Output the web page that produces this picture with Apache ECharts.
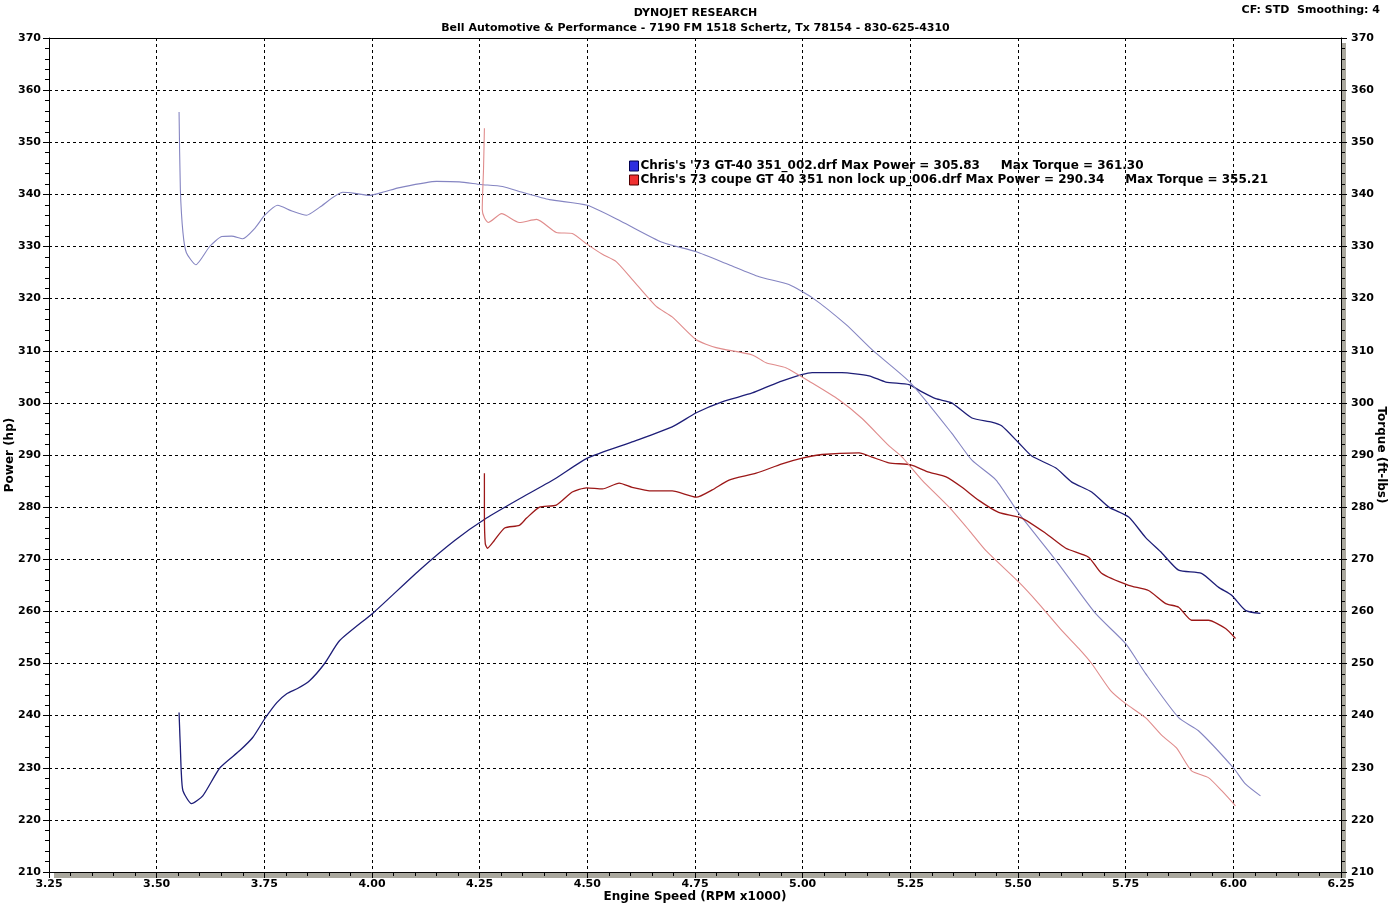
<!DOCTYPE html>
<html>
<head>
<meta charset="utf-8">
<title>Dynojet run</title>
<script src="https://cdn.jsdelivr.net/npm/echarts@6/dist/echarts.min.js"></script>
<style>
    html, body { margin: 0; padding: 0; background: #fff; }
    #chart { width: 1391px; height: 905px; }
</style>
</head>
<body>
<div id="chart"></div>
<script>
    // run labels
    const blueLabel = "Chris's '73 GT-40 351_002.drf Max Power = 305.83     Max Torque = 361.30";
    const redLabel = "Chris's 73 coupe GT 40 351 non lock up_006.drf Max Power = 290.34     Max Torque = 355.21";

    // [rpm x1000, value]
    const bluePower = [
        [3.552, 240.6], [3.554, 236.0], [3.555, 234.0], [3.557, 229.4], [3.561, 225.6], [3.581, 223.1],
        [3.607, 224.6], [3.647, 230.0], [3.693, 233.3], [3.723, 235.8], [3.751, 239.4], [3.779, 242.5],
        [3.802, 244.2], [3.827, 245.2], [3.855, 246.7], [3.890, 250.0], [3.925, 254.4], [4.004, 259.8],
        [4.110, 267.9], [4.192, 273.6], [4.266, 277.9], [4.349, 281.9], [4.428, 285.6], [4.500, 289.4],
        [4.604, 292.5], [4.697, 295.4], [4.753, 298.1], [4.813, 300.2], [4.883, 301.9], [4.945, 304.0],
        [5.022, 305.8], [5.091, 305.8], [5.154, 305.2], [5.193, 304.0], [5.247, 303.5], [5.277, 302.1],
        [5.309, 300.8], [5.346, 300.0], [5.393, 297.1], [5.439, 296.3], [5.462, 295.6], [5.502, 292.3],
        [5.532, 289.8], [5.588, 287.5], [5.625, 284.8], [5.671, 282.9], [5.711, 280.0], [5.757, 278.1],
        [5.796, 274.2], [5.834, 271.2], [5.873, 267.9], [5.926, 267.3], [5.966, 264.6], [5.996, 263.1],
        [6.028, 260.2], [6.063, 259.6]
    ];
    const blueTorque = [
        [3.552, 355.8], [3.555, 341.0], [3.561, 332.7], [3.569, 328.8], [3.591, 326.5], [3.623, 330.0],
        [3.651, 331.9], [3.674, 332.0], [3.700, 331.5], [3.728, 333.5], [3.751, 336.0], [3.781, 337.9],
        [3.814, 336.8], [3.848, 336.0], [3.878, 337.5], [3.932, 340.4], [3.960, 340.2], [3.994, 339.8],
        [4.029, 340.5], [4.064, 341.3], [4.150, 342.5], [4.203, 342.4], [4.252, 341.9], [4.303, 341.5],
        [4.349, 340.4], [4.412, 339.0], [4.500, 337.9], [4.579, 334.8], [4.674, 330.8], [4.753, 329.0],
        [4.829, 326.5], [4.899, 324.2], [4.968, 322.7], [5.022, 320.2], [5.101, 315.0], [5.161, 310.2],
        [5.251, 303.8], [5.346, 294.2], [5.393, 289.0], [5.449, 285.2], [5.502, 278.8], [5.588, 269.8],
        [5.680, 259.6], [5.750, 253.8], [5.796, 248.1], [5.873, 239.6], [5.919, 237.1], [6.000, 230.0],
        [6.028, 226.9], [6.063, 224.6]
    ];
    const redPower = [
        [4.261, 286.5], [4.261, 279.0], [4.263, 273.0], [4.268, 272.1], [4.284, 273.6], [4.308, 276.0],
        [4.342, 276.5], [4.359, 277.9], [4.389, 280.0], [4.428, 280.4], [4.465, 282.9], [4.498, 283.7],
        [4.535, 283.5], [4.574, 284.6], [4.604, 283.8], [4.651, 283.1], [4.697, 283.1], [4.753, 281.9],
        [4.790, 283.3], [4.829, 285.2], [4.892, 286.5], [4.952, 288.3], [4.999, 289.4], [5.045, 290.1],
        [5.131, 290.4], [5.161, 289.6], [5.200, 288.5], [5.251, 288.1], [5.293, 286.7], [5.333, 285.8],
        [5.370, 283.8], [5.409, 281.3], [5.455, 279.0], [5.509, 277.9], [5.564, 275.0], [5.611, 272.1],
        [5.664, 270.4], [5.694, 267.3], [5.757, 265.0], [5.803, 264.0], [5.843, 261.5], [5.873, 260.8],
        [5.903, 258.3], [5.942, 258.3], [5.982, 256.7], [6.005, 254.8]
    ];
    const redTorque = [
        [4.261, 352.7], [4.259, 345.0], [4.256, 337.1], [4.261, 335.5], [4.270, 334.6], [4.301, 336.3],
        [4.342, 334.6], [4.382, 335.2], [4.428, 332.7], [4.465, 332.5], [4.500, 330.4], [4.535, 328.5],
        [4.567, 327.1], [4.604, 323.7], [4.660, 318.5], [4.697, 316.5], [4.753, 312.1], [4.799, 310.6],
        [4.883, 309.2], [4.915, 307.7], [4.962, 306.7], [5.022, 303.8], [5.084, 300.6], [5.138, 297.0],
        [5.200, 291.8], [5.231, 289.6], [5.277, 285.2], [5.340, 280.0], [5.386, 275.6], [5.425, 271.7],
        [5.502, 265.6], [5.548, 261.5], [5.602, 256.3], [5.641, 252.9], [5.671, 250.0], [5.715, 244.8],
        [5.750, 242.3], [5.796, 239.6], [5.834, 236.2], [5.868, 233.8], [5.903, 229.4], [5.942, 228.1],
        [5.973, 225.6], [6.005, 222.7]
    ];

    const font = 'DejaVu Sans';
    const labelStyle = { color: '#000', fontFamily: font, fontSize: 11, fontWeight: 'bold' };
    const nameStyle = { color: '#000', fontFamily: font, fontSize: 12, fontWeight: 'bold' };

    function yAxis(name, pos, gap, rot, grid) {
        return {
            type: 'value', position: pos, min: 210, max: 370, interval: 10,
            name: name, nameLocation: 'middle', nameGap: gap, nameRotate: rot,
            nameMoveOverlap: false, nameTextStyle: nameStyle,
            axisLine: { show: true, lineStyle: { color: '#000', width: 1 } },
            axisTick: { show: true, length: 6, lineStyle: { color: '#000' } },
            minorTick: { show: true, splitNumber: 5, length: 4, lineStyle: { color: '#000' } },
            axisLabel: Object.assign({ margin: pos === 'left' ? 8 : 10 }, labelStyle),
            splitLine: { show: grid, lineStyle: { color: '#000', type: [3, 3], width: 1 } }
        };
    }

    function line(name, axis, data, color, width) {
        return {
            name: name, type: 'line', yAxisIndex: axis, data: data, showSymbol: false,
            smooth: 0.2, lineStyle: { color: color, width: width }, itemStyle: { color: color }
        };
    }

    const chart = echarts.init(document.getElementById('chart'));
    chart.setOption({
        animation: false,
        backgroundColor: '#fff',
        title: [
            { text: 'DYNOJET RESEARCH', left: 'center', top: 3,
              textStyle: Object.assign({}, labelStyle) },
            { text: 'Bell Automotive & Performance - 7190 FM 1518 Schertz, Tx 78154 - 830-625-4310', left: 'center', top: 18,
              textStyle: Object.assign({}, labelStyle) },
            { text: 'CF: STD  Smoothing: 4', right: 6, top: 0,
              textStyle: Object.assign({}, labelStyle) }
        ],
        legend: {
            orient: 'vertical', left: 624, top: 155, itemGap: 2,
            itemWidth: 9, itemHeight: 10, icon: 'rect',
            textStyle: { color: '#000', fontFamily: font, fontSize: 12, fontWeight: 'bold', padding: [0, 0, 0, -3] },
            data: [
                { name: blueLabel, itemStyle: { color: '#2d2de0', borderColor: '#000050', borderWidth: 1 } },
                { name: redLabel, itemStyle: { color: '#f03030', borderColor: '#500000', borderWidth: 1 } }
            ]
        },
        // gray drop shadow of the plot frame (right and bottom)
        graphic: [
            { type: 'rect', z: -10, shape: { x: 1342, y: 43, width: 4, height: 835 }, style: { fill: '#aaa89e' } },
            { type: 'rect', z: -10, shape: { x: 54, y: 873, width: 1292, height: 5 }, style: { fill: '#aaa89e' } }
        ],
        grid: {
            left: 49, right: 50, top: 38, bottom: 33,
            containLabel: false, outerBoundsMode: 'none', show: false
        },
        xAxis: [
            {
                type: 'value', min: 3.25, max: 6.25, interval: 0.25,
                name: 'Engine Speed (RPM x1000)', nameLocation: 'middle', nameGap: 19,
                nameMoveOverlap: false, nameTextStyle: nameStyle,
                axisLine: { lineStyle: { color: '#000', width: 1 } },
                axisTick: { length: 6, lineStyle: { color: '#000' } },
                minorTick: { show: true, splitNumber: 5, length: 4, lineStyle: { color: '#000' } },
                axisLabel: Object.assign({ margin: 7, formatter: v => v.toFixed(2) }, labelStyle),
                splitLine: { show: true, lineStyle: { color: '#000', type: [3, 3], width: 1 } }
            },
            {
                // top frame edge
                type: 'value', position: 'top', min: 3.25, max: 6.25,
                axisLine: { show: true, lineStyle: { color: '#000', width: 1 } },
                axisTick: { show: false }, axisLabel: { show: false }, splitLine: { show: false }
            }
        ],
        yAxis: [
            yAxis('Power (hp)', 'left', 33, 90, true),
            yAxis('Torque (ft-lbs)', 'right', 34, -90, false)
        ],
        series: [
            line(blueLabel, 0, bluePower, '#1e1e78', 1.3),
            line(blueLabel, 1, blueTorque, '#8585c2', 1.1),
            line(redLabel, 0, redPower, '#9c1818', 1.3),
            line(redLabel, 1, redTorque, '#e08c8c', 1.1)
        ]
    });
</script>
</body>
</html>
